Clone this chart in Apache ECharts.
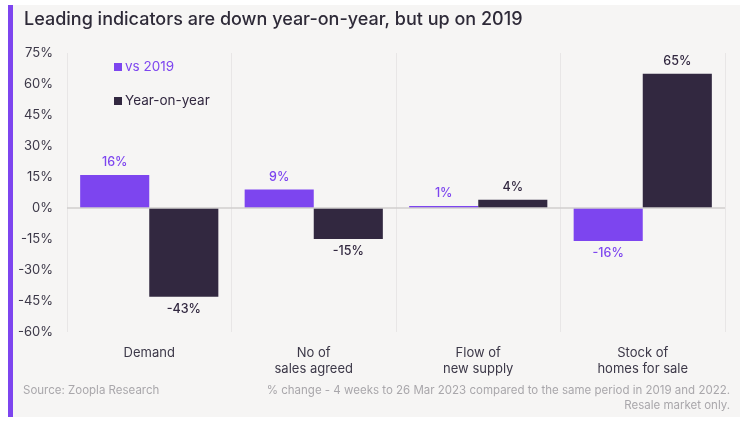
<!DOCTYPE html>
<html><head><meta charset="utf-8">
<script src="https://cdn.jsdelivr.net/npm/echarts@6/dist/echarts.min.js"></script>
<style>html,body{margin:0;padding:0;background:#fff}#c{width:750px;height:426px}</style>
</head><body><div id="c"></div>
<script>
const categories = ['Demand', 'No of\nsales agreed', 'Flow of\nnew supply', 'Stock of\nhomes for sale'];
const vs2019 = [16, 9, 1, -16];
const yoy = [-43, -15, 4, 65];
const seriesNames = ['vs 2019', 'Year-on-year'];
const yTicks = {min: -60, max: 75, interval: 15};

const PURPLE = '#7d45ef';
const DARK = '#322840';
const FONT = 'Inter';

function items(vals, color) {
  return vals.map(v => ({
    value: v,
    label: {position: v >= 0 ? 'top' : 'bottom', color: color}
  }));
}

const chart = echarts.init(document.getElementById('c'));
chart.setOption({
  animation: false,
  textStyle: {fontFamily: FONT},
  graphic: [
    {type: 'rect', shape: {x: 8, y: 5, width: 732, height: 412}, style: {fill: '#f6f5f4'}, z: -10},
    {type: 'rect', shape: {x: 8, y: 5, width: 5, height: 412}, style: {fill: '#7d45ef'}, z: -9},
    {type: 'text', left: 24, top: 11, style: {text: 'Leading indicators are down year-on-year, but up on 2019', fontSize: 18, fontWeight: 500, fill: '#2e2a38', fontFamily: FONT}},
    {type: 'text', left: 23, top: 385, style: {text: 'Source: Zoopla Research', fontSize: 11.5, fill: '#a9a7ab', fontFamily: FONT}},
    {type: 'text', right: 20, top: 385, style: {text: '% change - 4 weeks to 26 Mar 2023 compared to the same period in 2019 and 2022.', fontSize: 11.5, fill: '#a9a7ab', fontFamily: FONT}},
    {type: 'text', right: 20, top: 400, style: {text: 'Resale market only.', fontSize: 11.5, fill: '#a9a7ab', fontFamily: FONT}}
  ],
  legend: {
    orient: 'vertical', left: 109, top: 55, itemGap: 20, itemWidth: 8, itemHeight: 8, icon: 'rect',
    data: [
      {name: seriesNames[0], textStyle: {color: PURPLE}},
      {name: seriesNames[1], textStyle: {color: DARK}}
    ],
    textStyle: {fontSize: 13.5, fontFamily: FONT, padding: [0, 0, 0, -2]}
  },
  grid: {left: 67, right: 25, top: 53, bottom: 94},
  xAxis: {
    type: 'category', data: categories,
    axisLine: {show: false}, axisTick: {show: false},
    splitLine: {show: true, lineStyle: {color: '#e8e6e6', width: 1}},
    axisLabel: {color: '#3c3848', fontSize: 13, margin: 13, lineHeight: 16, fontFamily: FONT}
  },
  yAxis: {
    type: 'value', min: yTicks.min, max: yTicks.max, interval: yTicks.interval,
    axisLine: {show: false}, axisTick: {show: false}, splitLine: {show: false},
    axisLabel: {formatter: '{value}%', color: '#3c3848', fontSize: 13, margin: 14, fontFamily: FONT}
  },
  series: [
    {
      name: seriesNames[0], type: 'bar', data: items(vs2019, PURPLE), barWidth: '42%', barGap: '0%',
      itemStyle: {color: PURPLE},
      label: {show: true, formatter: '{c}%', fontSize: 12.5, fontWeight: 500, distance: 6, fontFamily: FONT},
      markLine: {silent: true, symbol: 'none', label: {show: false}, lineStyle: {color: '#d0cece', type: 'solid', width: 1.5}, data: [{yAxis: 0}]}
    },
    {
      name: seriesNames[1], type: 'bar', data: items(yoy, DARK), barWidth: '42%', barGap: '0%',
      itemStyle: {color: DARK},
      label: {show: true, formatter: '{c}%', fontSize: 12.5, fontWeight: 500, distance: 6, fontFamily: FONT}
    }
  ]
});
</script></body></html>
